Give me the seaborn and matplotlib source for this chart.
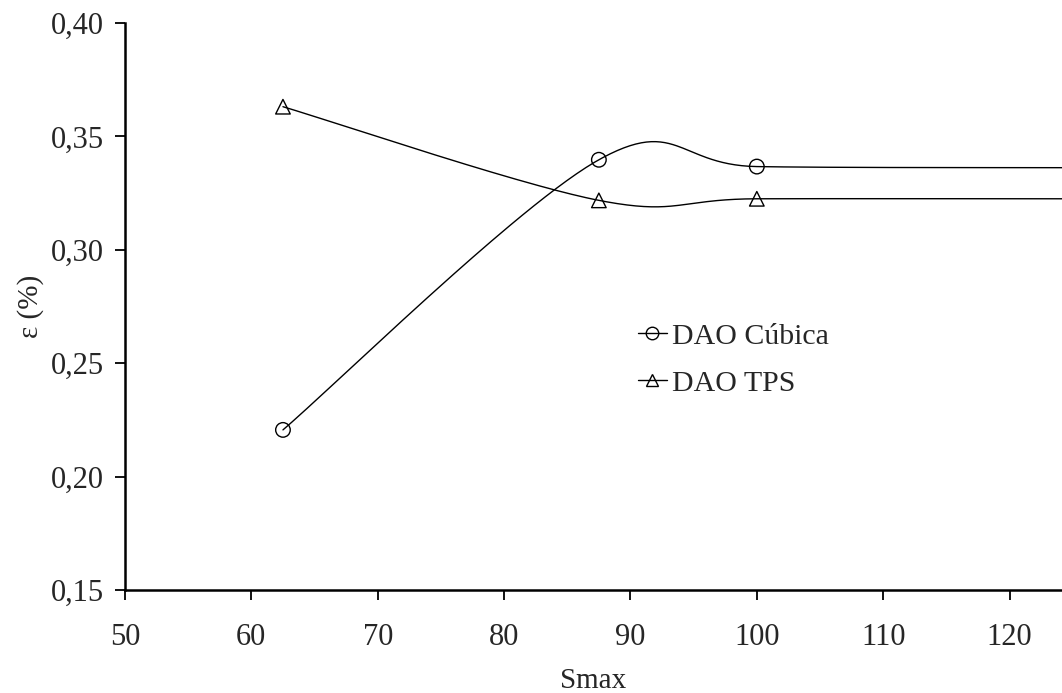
import numpy as np
import pandas as pd
import matplotlib
matplotlib.use("Agg")
import matplotlib.pyplot as plt
import seaborn as sns
from matplotlib.lines import Line2D
from matplotlib.ticker import FuncFormatter

smax = [62.5, 87.5, 100, 125]
dao_cubica = [0.2206, 0.3397, 0.3367, 0.3362]
dao_tps = [0.3631, 0.3218, 0.3225, 0.3225]
series_names = ["DAO Cúbica", "DAO TPS"]


def excel_smooth(x, y, n=60):
    # Bezier smoothing like Excel's "smoothed line" option
    x = np.asarray(x, float)
    y = np.asarray(y, float)
    px = np.concatenate([[x[0]], x, [x[-1]]])
    py = np.concatenate([[y[0]], y, [y[-1]]])
    xs, ys = [], []
    t = np.linspace(0, 1, n)
    for i in range(1, len(px) - 2):
        p1 = np.array([px[i], py[i]])
        p2 = np.array([px[i + 1], py[i + 1]])
        p0 = np.array([px[i - 1], py[i - 1]])
        p3 = np.array([px[i + 2], py[i + 2]])
        c1 = p1 + (p2 - p0) / 6
        c2 = p2 - (p3 - p1) / 6
        b = ((1 - t) ** 3)[:, None] * p1 + (3 * (1 - t) ** 2 * t)[:, None] * c1 \
            + (3 * (1 - t) * t ** 2)[:, None] * c2 + (t ** 3)[:, None] * p2
        xs.extend(b[:, 0])
        ys.extend(b[:, 1])
    return np.array(xs), np.array(ys)


sns.set_style("ticks")
plt.rcParams["font.family"] = ["Liberation Serif", "DejaVu Serif"]

fig = plt.figure(figsize=(10.62, 6.93), dpi=100)
ax = fig.add_axes([0.1177, 0.1486, 0.8823, 0.8182])

markers = ["o", "^"]
for vals, name, mk in zip([dao_cubica, dao_tps], series_names, markers):
    sx, sy = excel_smooth(smax, vals)
    curve = pd.DataFrame({"Smax": sx, "eps": sy})
    sns.lineplot(data=curve, x="Smax", y="eps", sort=False, color="black",
                 linewidth=1.0, ax=ax, legend=False)
    pts = pd.DataFrame({"Smax": smax, "eps": vals})
    sns.scatterplot(data=pts, x="Smax", y="eps", marker=mk, s=110,
                    facecolor="none", edgecolor="black", linewidth=1.0,
                    ax=ax, legend=False, zorder=3)

ax.set_xlim(50, 124.15)
ax.set_ylim(0.15, 0.40)
ax.set_xticks(np.arange(50, 121, 10))
ax.set_yticks(np.arange(0.15, 0.401, 0.05))
ax.yaxis.set_major_formatter(FuncFormatter(lambda v, p: f"{v:.2f}".replace(".", ",")))
ax.tick_params(axis="both", labelsize=22, length=7, width=1.3, color="black")
ax.tick_params(axis="x", pad=17)
ax.tick_params(axis="y", pad=8)
ax.set_xlabel("Smax", fontsize=21, labelpad=11)
ax.set_ylabel("ε (%)", fontsize=21, labelpad=5)
for side in ["top", "right"]:
    ax.spines[side].set_visible(False)
for side in ["left", "bottom"]:
    ax.spines[side].set_linewidth(1.8)
    ax.spines[side].set_color("black")

handles = [Line2D([], [], color="black", lw=1.0, marker=m, markersize=9,
                  markerfacecolor="none", markeredgecolor="black")
           for m in markers]
fig.legend(handles, series_names, loc="upper left", bbox_to_anchor=(0.575, 0.573),
           frameon=False, fontsize=21.5, handlelength=1.0, handletextpad=0.15,
           labelspacing=0.68)

plt.savefig("out.png", dpi=100)
